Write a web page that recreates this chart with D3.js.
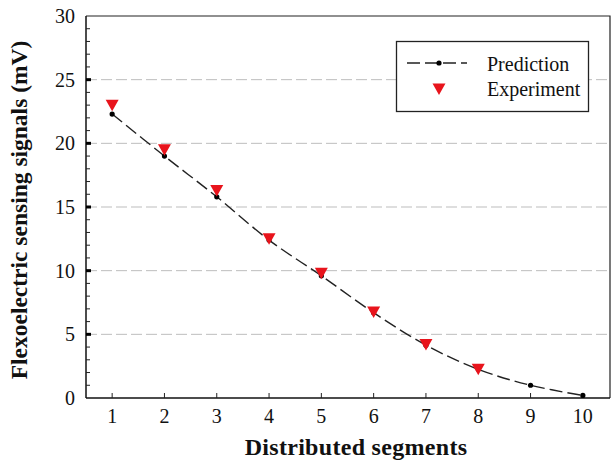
<!DOCTYPE html>
<html>
<head>
<meta charset="utf-8">
<script src="https://cdn.jsdelivr.net/npm/d3@7"></script>
<style>
  html, body { margin: 0; padding: 0; background: #fff; }
  svg { display: block; }
  text { font-family: "Liberation Serif", "Times New Roman", serif; fill: #111; }
</style>
</head>
<body>
<svg id="chart" width="612" height="463"></svg>
<script>
// Distributed segment index
const segments = [1, 2, 3, 4, 5, 6, 7, 8, 9, 10];
// Predicted flexoelectric signal (mV) for each segment
const prediction = [22.3, 19.0, 15.8, 12.4, 9.6, 6.7, 4.15, 2.25, 1.0, 0.2];
// Measured signal (mV), segments 1–8
const experimentSegments = [1, 2, 3, 4, 5, 6, 7, 8];
const experiment = [23.0, 19.5, 16.3, 12.5, 9.8, 6.75, 4.2, 2.25];
// Axis ticks
const yTicks = [0, 5, 10, 15, 20, 25, 30];
const yGridTicks = [5, 10, 15, 20, 25];
const yMinorTicks = d3.range(0, 31, 1);
const xTicks = segments;

const svg = d3.select("#chart");
const plotL = 86, plotR = 610, plotT = 16, plotB = 398;

const x = d3.scaleLinear().domain([0.5, 10.5]).range([plotL, plotL + 10 * 52.3]);
const y = d3.scaleLinear().domain([0, 30]).range([plotB, plotT]);

// dashed horizontal gridlines
svg.append("g").selectAll("line").data(yGridTicks).join("line")
  .attr("x1", plotL).attr("x2", plotR)
  .attr("y1", d => y(d)).attr("y2", d => y(d))
  .attr("stroke", "#bdbdbd").attr("stroke-width", 1)
  .attr("stroke-dasharray", "11,4");

// frame: top border + right border
svg.append("path")
  .attr("d", `M${plotL},${plotT}H${plotR}V${plotB}`)
  .attr("fill", "none").attr("stroke", "#222").attr("stroke-width", 1.2);

// y axis with inward ticks
const yAxisG = svg.append("g").attr("transform", `translate(${plotL},0)`);
yAxisG.append("line").attr("x1", 0).attr("x2", 0).attr("y1", plotT).attr("y2", plotB)
  .attr("stroke", "#111").attr("stroke-width", 1.5);
yAxisG.selectAll("line.minor").data(yMinorTicks.filter(v => v % 5 !== 0)).join("line")
  .attr("class", "minor")
  .attr("x1", 0).attr("x2", 4).attr("y1", d => y(d)).attr("y2", d => y(d))
  .attr("stroke", "#222").attr("stroke-width", 1);
yAxisG.selectAll("rect.major").data(yTicks.filter(v => v > 0 && v < 30)).join("rect")
  .attr("class", "major")
  .attr("x", 0).attr("y", d => y(d) - 1.5).attr("width", 5).attr("height", 3)
  .attr("fill", "#000");
yAxisG.selectAll("text").data(yTicks).join("text")
  .attr("x", -11).attr("y", d => y(d)).attr("dy", "0.35em")
  .attr("text-anchor", "end").attr("font-size", 20)
  .text(d => d);

// x axis with inward ticks
const xAxisG = svg.append("g").attr("transform", `translate(0,${plotB})`);
xAxisG.append("line").attr("x1", plotL).attr("x2", plotR).attr("y1", 0).attr("y2", 0)
  .attr("stroke", "#111").attr("stroke-width", 1.5);
xAxisG.selectAll("line.tick").data(xTicks).join("line")
  .attr("class", "tick")
  .attr("x1", d => x(d)).attr("x2", d => x(d)).attr("y1", 0).attr("y2", -5)
  .attr("stroke", "#222").attr("stroke-width", 1);
xAxisG.selectAll("text").data(xTicks).join("text")
  .attr("x", d => x(d)).attr("y", 25)
  .attr("text-anchor", "middle").attr("font-size", 20)
  .text(d => d);

// axis titles
svg.append("text")
  .attr("x", 356).attr("y", 455)
  .attr("text-anchor", "middle").attr("font-size", 24).attr("font-weight", "bold")
  .attr("letter-spacing", 0.3)
  .text("Distributed segments");
svg.append("text")
  .attr("transform", `translate(27,210) rotate(-90)`)
  .attr("text-anchor", "middle").attr("font-size", 23.5).attr("font-weight", "bold")
  .text("Flexoelectric sensing signals (mV)");

// prediction curve
const predData = segments.map((s, i) => [s, prediction[i]]);
const line = d3.line().x(d => x(d[0])).y(d => y(d[1])).curve(d3.curveCatmullRom.alpha(0.5));
svg.append("path").datum(predData)
  .attr("d", line)
  .attr("fill", "none").attr("stroke", "#222").attr("stroke-width", 1.4)
  .attr("stroke-dasharray", "13,5");
svg.append("g").selectAll("circle").data(predData).join("circle")
  .attr("cx", d => x(d[0])).attr("cy", d => y(d[1])).attr("r", 2.6)
  .attr("fill", "#000");

// experiment markers (downward triangles)
const tri = "M-6.5,-5.5L6.5,-5.5L0,6Z";
svg.append("g").selectAll("path").data(experimentSegments.map((s, i) => [s, experiment[i]])).join("path")
  .attr("transform", d => `translate(${x(d[0])},${y(d[1])})`)
  .attr("d", tri).attr("fill", "#e8141c");

// legend
const lg = svg.append("g");
lg.append("rect").attr("x", 396.5).attr("y", 41.5).attr("width", 192).attr("height", 70)
  .attr("fill", "#fff").attr("stroke", "#222").attr("stroke-width", 1.3);
lg.append("line").attr("x1", 407).attr("x2", 467).attr("y1", 63).attr("y2", 63)
  .attr("stroke", "#222").attr("stroke-width", 1.4).attr("stroke-dasharray", "13,5");
lg.append("circle").attr("cx", 439).attr("cy", 63).attr("r", 2.6).attr("fill", "#000");
lg.append("path").attr("transform", "translate(439,89)").attr("d", tri).attr("fill", "#e8141c");
lg.append("text").attr("x", 487).attr("y", 71).attr("font-size", 20).text("Prediction");
lg.append("text").attr("x", 487).attr("y", 96).attr("font-size", 20).text("Experiment");
</script>
</body>
</html>
